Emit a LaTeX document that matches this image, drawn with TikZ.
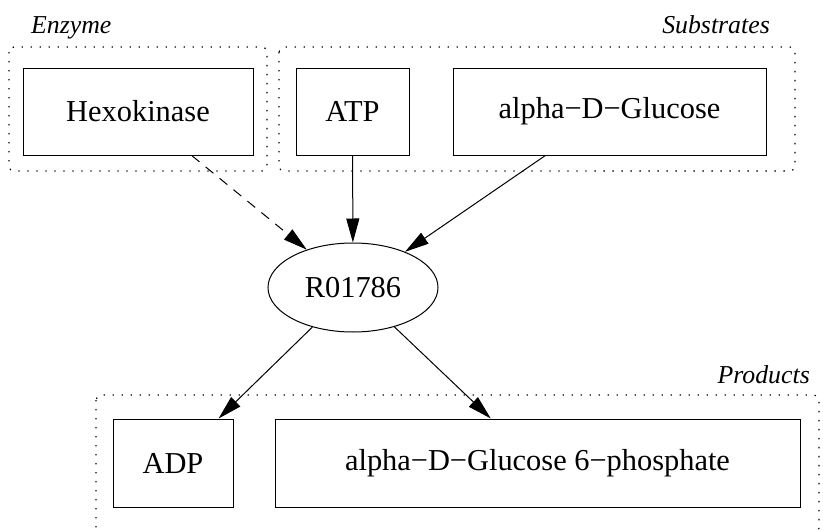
\documentclass[tikz,border=0pt]{standalone}
\usepackage{fontspec}
\setmainfont{Liberation Serif}
\usetikzlibrary{arrows.meta,shapes.geometric}
\begin{document}
\begin{tikzpicture}[x=1pt,y=-1pt,
  box/.style={draw,line width=1pt,rectangle,inner sep=0pt,font=\fontsize{30.4}{36}\selectfont},
  rxnshape/.style={draw,line width=1pt,ellipse,inner sep=0pt,minimum width=170pt,minimum height=89pt,font=\fontsize{30.4}{36}\selectfont},
  cluster/.style={draw,line width=1.2pt,dash pattern=on 1.4pt off 7.6pt,rounded corners=5pt},
  clabel/.style={font=\fontsize{25.8}{30}\selectfont\itshape,inner sep=0pt},
  edge/.style={line width=1pt,-{Triangle[length=24pt,width=13pt]}},
]
\useasboundingbox (0,0) rectangle (823,530);
\fill[white] (0,0) rectangle (823,530);
% clusters
\draw[cluster] (9,47) rectangle (267,171);
\draw[cluster] (279,47) rectangle (795,171);
\draw[cluster] (96,395) rectangle (819,533);
\node[clabel,anchor=base west] (lenz) at (31,33) {Enzyme};
\node[clabel,anchor=base east] (lsub) at (770,33) {Substrates};
\node[clabel,anchor=base east] (lprod) at (810,383) {Products};
% nodes
\node[box,minimum width=230pt,minimum height=87pt] (hex) at (138,111.5) {Hexokinase};
\node[box,minimum width=113pt,minimum height=87pt] (atp) at (352.5,111.5) {ATP};
\node[box,minimum width=313pt,minimum height=87pt] (glc) at (609.5,111.5) {alpha−D−Glucose};
\node[rxnshape] (rxn) at (353,287.5) {R01786};
\node[box,minimum width=120pt,minimum height=88pt] (adp) at (173,463) {ADP};
\node[box,minimum width=525pt,minimum height=88pt] (g6p) at (537.5,463) {alpha−D−Glucose 6−phosphate};
% edges
\draw[edge,dash pattern=on 10pt off 8pt] (hex) -- (rxn);
\draw[edge] (atp) -- (rxn);
\draw[edge] (glc) -- (rxn);
\draw[edge] (rxn) -- (adp);
\draw[edge] (rxn) -- (g6p);
\end{tikzpicture}
\end{document}
